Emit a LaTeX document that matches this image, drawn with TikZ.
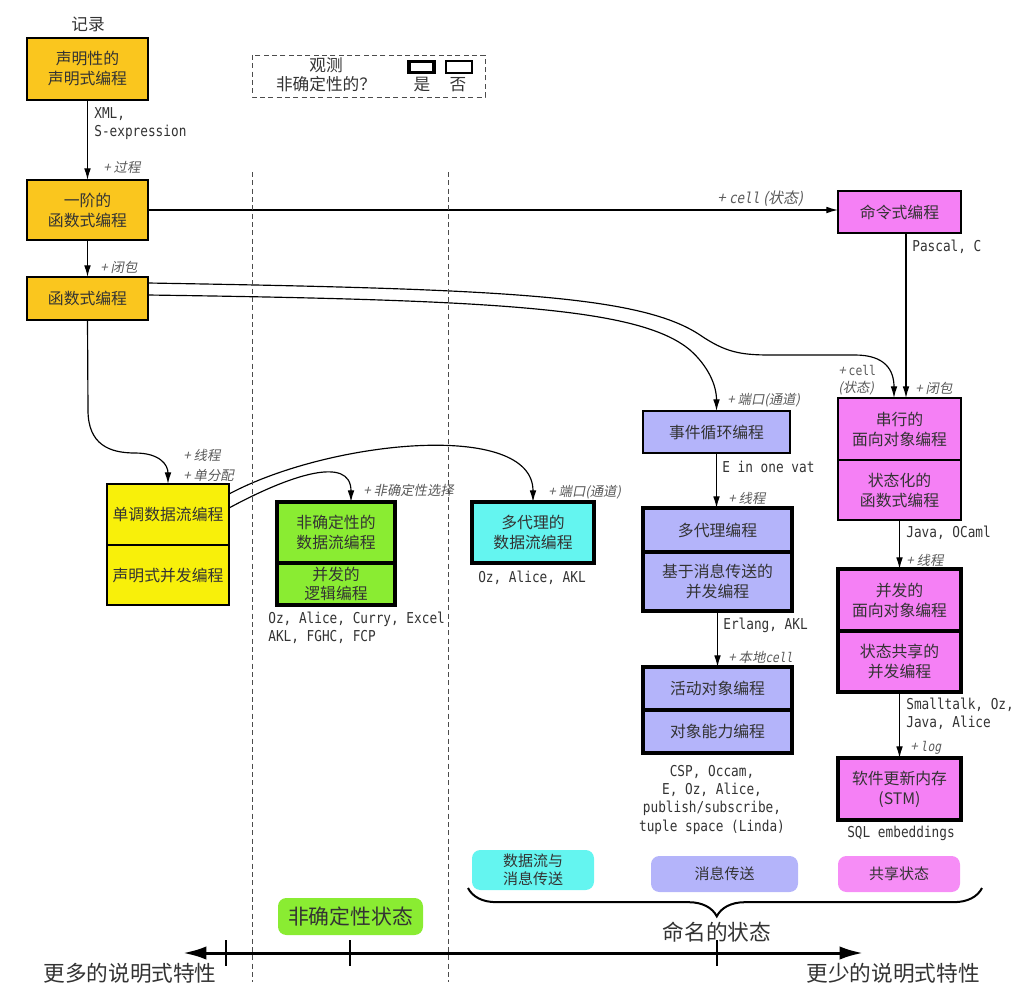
\documentclass[tikz,border=0pt]{standalone}
\usepackage{fontspec}
\setmainfont{Noto Sans CJK SC}
\newfontfamily\notefont[FakeSlant=0.2]{Noto Sans CJK SC}
\newfontfamily\langfont[FakeStretch=0.85]{DejaVu Sans Mono}
\newfontfamily\notemono[FakeSlant=0.2,FakeStretch=0.85]{DejaVu Sans Mono}
\usepackage{tikz}
\usetikzlibrary{arrows.meta,positioning,decorations.pathreplacing}

\definecolor{funcorange}{RGB}{250,198,30}
\definecolor{dfyellow}{RGB}{248,240,10}
\definecolor{ndgreen}{RGB}{138,236,50}
\definecolor{dfcyan}{RGB}{100,245,240}
\definecolor{msgpurple}{RGB}{180,180,250}
\definecolor{statepink}{RGB}{245,128,245}

\begin{document}
\begin{tikzpicture}[
    x=0.6pt, y=-0.6pt,
    >={Latex[length=7pt,width=4pt]},
    every node/.style={
        font=\fontsize{9.5}{12}\selectfont,
        align=center,
        text=black!80
    },
    box/.style={draw, line width=0.7pt, outer sep=0pt, inner sep=1pt},
    heavybox/.style={box, line width=2pt},
    flow/.style={->, line width=0.7pt},
    note/.style={font=\notefont\fontsize{8}{10}\selectfont, anchor=west, align=left, inner sep=0pt, text=black!65},
    langs/.style={font=\langfont\fontsize{9}{11}\selectfont, anchor=west, align=left, inner sep=0pt},
    divider/.style={dash pattern=on 3pt off 2pt, line width=0.6pt, black!70},
    tag/.style={fill=#1, rounded corners=5pt, inner sep=1pt, font=\fontsize{9}{11}\selectfont}
]
\useasboundingbox (0,0) rectangle (1024,989);

\node (recordlbl) at (88,24) {\fontsize{10}{12}\selectfont 记录};
\node[box, fill=funcorange, minimum width=72.6pt, minimum height=37.2pt] (declprog) at (87.5,69) {声明性的\\声明式编程};
\node[box, fill=funcorange, minimum width=72.6pt, minimum height=36pt] (firstfunc) at (87.5,210) {一阶的\\函数式编程};
\node[box, fill=funcorange, minimum width=72.6pt, minimum height=25.8pt] (funcprog) at (87.5,298.5) {函数式编程};

\node[box, fill=dfyellow, minimum width=73.2pt, minimum height=36.6pt] (monodf) at (168,514.5) {单调数据流编程};
\node[box, fill=dfyellow, minimum width=73.2pt, minimum height=36pt, below=0pt of monodf] (declconc) {声明式并发编程};

\node[heavybox, fill=ndgreen, minimum width=70.8pt, minimum height=36.6pt] (nddf) at (336,532.5) {非确定性的\\数据流编程};
\node[heavybox, fill=ndgreen, minimum width=70.8pt, minimum height=25.2pt, below=0pt of nddf, font=\fontsize{9.5}{11}\selectfont] (conclogic) {并发的\\逻辑编程};

\node[heavybox, fill=dfcyan, minimum width=73.2pt, minimum height=36.6pt] (multidf) at (533,532.5) {多代理的\\数据流编程};

\node[box, fill=msgpurple, minimum width=88.2pt, minimum height=25.2pt] (eventloop) at (716.5,432) {事件循环编程};
\node[heavybox, fill=msgpurple, minimum width=89.4pt, minimum height=26.4pt] (multiagent) at (717.5,530) {多代理编程};
\node[heavybox, fill=msgpurple, minimum width=89.4pt, minimum height=35.4pt, below=0pt of multiagent] (msgconc) {基于消息传送的\\并发编程};
\node[heavybox, fill=msgpurple, minimum width=89.4pt, minimum height=25.8pt] (activeobj) at (717.5,688.5) {活动对象编程};
\node[heavybox, fill=msgpurple, minimum width=89.4pt, minimum height=25.8pt, below=0pt of activeobj] (objcap) {对象能力编程};

\node[box, fill=statepink, minimum width=73.8pt, minimum height=25.2pt] (imperative) at (899.5,212) {命令式编程};
\node[box, fill=statepink, minimum width=73.8pt, minimum height=37.2pt] (seqoop) at (899.5,429) {串行的\\面向对象编程};
\node[box, fill=statepink, minimum width=73.8pt, minimum height=36pt, below=0pt of seqoop] (statefunc) {状态化的\\函数式编程};
\node[heavybox, fill=statepink, minimum width=73.8pt, minimum height=37.2pt] (concoop) at (899.5,600) {并发的\\面向对象编程};
\node[heavybox, fill=statepink, minimum width=73.8pt, minimum height=36.6pt, below=0pt of concoop] (sharedconc) {状态共享的\\并发编程};
\node[heavybox, fill=statepink, minimum width=73.8pt, minimum height=37.2pt] (stm) at (899.5,789) {软件更新内存\\(STM)};

\draw[flow] (declprog) -- (firstfunc);
\draw[flow] (firstfunc) -- (funcprog);
\draw[flow] (firstfunc.east) -- (firstfunc.east -| imperative.west);
\draw[flow] ([yshift=9.3pt]funcprog.east) .. controls (500,289) and (640,295) .. (700,335)
    .. controls (725,352) and (740,355) .. (770,355) -- (855,355)
    .. controls (885,355) and (894,370) .. ([xshift=-3.3pt]seqoop.north);
\draw[flow] ([yshift=2.1pt]funcprog.east) .. controls (500,300) and (640,308) .. (690,350)
    .. controls (708,366) and (716.5,385) .. (eventloop.north);
\draw[flow] (funcprog.south) -- (88,410) .. controls (88,445) and (110,453) .. (135,453)
    .. controls (160,453) and (168,465) .. (monodf.north);
\draw[flow] ([yshift=12.3pt]monodf.east) .. controls (330,440) and (533,420) .. (multidf.north);
\draw[flow] ([yshift=3.9pt]monodf.east) .. controls (290,475) and (351,455) .. ([xshift=9pt]nddf.north);
\draw[flow] ([xshift=3.9pt]imperative.south) -- ([xshift=3.9pt]seqoop.north);
\draw[flow] (eventloop.south) -- (eventloop.south |- multiagent.north);
\draw[flow] (msgconc) -- (activeobj);
\draw[flow] (statefunc) -- (concoop);
\draw[flow] (sharedconc) -- (stm);

\node[langs] (xmllbl) at (94,123.5) {XML,\\S-expression};
\node[note] (proclbl) at (103,167) {+ 过程};
\node[note] (closlbl) at (100,267) {+ 闭包};
\node[note, font=\notefont\fontsize{9}{11}\selectfont] (celllbl) at (717,199) {+ {\notemono cell} (状态)};
\node[langs] (pascallbl) at (912,247) {Pascal, C};
\node[note] (cellkbl) at (838,380) {+ {\langfont cell}\\(状态)};
\node[note] (closkbl) at (915,388) {+ 闭包};
\node[note] (portglbl) at (727,400) {+ 端口(通道)};
\node[langs] (vatlbl) at (722,467) {E in one vat};
\node[note] (threadhlbl) at (728,498) {+ 线程};
\node[langs] (erlanglbl) at (723,625) {Erlang, AKL};
\node[note] (localcelllbl) at (728,657) {+ 本地{\notemono cell}};
\node[langs, anchor=center, align=center] (csplbl) at (712,799.5) {CSP, Occam,\\E, Oz, Alice,\\publish/subscribe,\\tuple space (Linda)};
\node[langs] (javalbl) at (906,533) {Java, OCaml};
\node[note] (threadllbl) at (906,560) {+ 线程};
\node[langs] (smalltalklbl) at (906,713.5) {Smalltalk, Oz,\\Java, Alice};
\node[note] (loglbl) at (910,748) {+ {\notemono log}};
\node[langs, anchor=center] (sqllbl) at (901,833) {SQL embeddings};
\node[langs] (ozcurrylbl) at (268,627.5) {Oz, Alice, Curry, Excel\\AKL, FGHC, FCP};
\node[langs, anchor=center] (ozakllbl) at (532,578) {Oz, Alice, AKL};
\node[note] (singlelbl) at (183,465) {+ 线程\\[2pt]+ 单分配};
\node[note] (choicelbl) at (363,490) {+ 非确定性选择};
\node[note] (portflbl) at (548,492) {+ 端口(通道)};

\draw[divider] (252,55) rectangle (485,97);
\node[font=\fontsize{10}{11.5}\selectfont] (legendq) at (326,74.5) {观测\\非确定性的？};
\node[draw, line width=2pt, minimum width=15pt, minimum height=6.6pt, inner sep=0pt] (yesbox) at (421.5,67) {};
\node[draw, line width=0.7pt, minimum width=15.6pt, minimum height=7.2pt, inner sep=0pt] (nobox) at (459,67) {};
\node[font=\fontsize{10}{12}\selectfont] (yeslbl) at (422,85) {是};
\node[font=\fontsize{10}{12}\selectfont] (nolbl) at (458,85) {否};

\draw[divider] (252,172) -- (252,982);
\draw[divider] (448,172) -- (448,982);

\node[tag=dfcyan, minimum width=73.2pt, minimum height=24pt] (dflegend) at (533,870) {数据流与\\消息传送};
\node[tag=msgpurple, minimum width=88.2pt, minimum height=21.6pt] (msglegend) at (724.5,874) {消息传送};
\node[tag=statepink!90, minimum width=73.2pt, minimum height=21.6pt] (sharedlegend) at (899,874) {共享状态};
\node[tag=ndgreen, minimum width=87pt, minimum height=22.2pt, font=\fontsize{12.5}{14}\selectfont] (ndlegend) at (350.5,916.5) {非确定性状态};

\draw[decorate, decoration={brace, mirror, amplitude=17pt, aspect=0.484}, line width=1.2pt] (468,888) -- (982,888);
\node[font=\fontsize{13}{15}\selectfont] (namedlbl) at (717,932) {命名的状态};

\coordinate (axl) at (183,953);
\coordinate (axr) at (863,953);
\draw[line width=1.8pt, {Latex[length=14pt,width=8pt]}-{Latex[length=14pt,width=8pt]}] (axl) -- (axr);
\foreach \tx in {226,350,717}
    \draw[line width=1.2pt] (\tx,940) -- (\tx,966);
\node[font=\fontsize{13}{15}\selectfont] (morelbl) at (130,973) {更多的说明式特性};
\node[font=\fontsize{13}{15}\selectfont] (lesslbl) at (893,973) {更少的说明式特性};

\end{tikzpicture}
\end{document}
